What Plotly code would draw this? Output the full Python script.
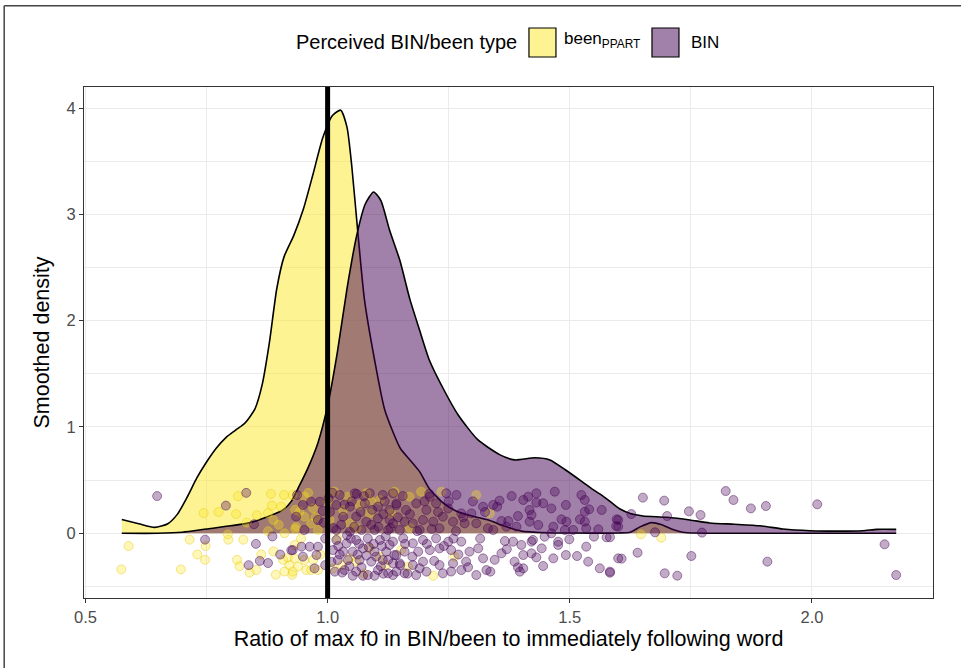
import plotly.graph_objects as go

# ---- smoothed densities of the f0 ratio, one curve per perceived type ----
been_x = [0.575, 0.61, 0.643, 0.67, 0.69, 0.71, 0.73, 0.75, 0.77, 0.79, 0.81, 0.83,
          0.85, 0.865, 0.88, 0.895, 0.91, 0.93, 0.95, 0.97, 0.99, 1.01, 1.027, 1.04,
          1.05, 1.062, 1.076, 1.097, 1.118, 1.15, 1.17, 1.19, 1.21, 1.24, 1.27, 1.30,
          1.335, 1.36, 1.38, 1.40, 1.45, 1.50, 1.60, 1.625, 1.645, 1.669, 1.69, 1.71,
          1.733, 1.76, 1.90, 2.174]
been_y = [0.13, 0.09, 0.055, 0.09, 0.18, 0.34, 0.52, 0.67, 0.80, 0.90, 0.97, 1.04,
          1.17, 1.40, 1.80, 2.30, 2.60, 2.80, 3.05, 3.38, 3.72, 3.93, 3.98, 3.82,
          3.45, 2.85, 2.20, 1.63, 1.16, 0.80, 0.69, 0.58, 0.42, 0.28, 0.20, 0.16,
          0.12, 0.075, 0.045, 0.02, 0.005, 0.002, 0.003, 0.01, 0.06, 0.10, 0.08, 0.04,
          0.01, 0.002, 0.0, 0.0]

bin_x = [0.575, 0.65, 0.70, 0.75, 0.80, 0.84, 0.873, 0.908, 0.925, 0.942, 0.96, 0.98,
         1.0, 1.02, 1.04, 1.06, 1.078, 1.095, 1.11, 1.128, 1.149, 1.17, 1.19, 1.21,
         1.24, 1.27, 1.31, 1.355, 1.386, 1.428, 1.459, 1.49, 1.521, 1.545, 1.562, 1.583,
         1.603, 1.625, 1.651, 1.70, 1.748, 1.789, 1.84, 1.893, 1.94, 1.996, 2.05, 2.105,
         2.134, 2.174]
bin_y = [0.0, 0.0, 0.01, 0.04, 0.07, 0.10, 0.15, 0.22, 0.30, 0.45, 0.62, 0.85,
         1.20, 1.70, 2.30, 2.80, 3.10, 3.21, 3.13, 2.85, 2.57, 2.20, 1.91, 1.63,
         1.35, 1.11, 0.88, 0.74, 0.69, 0.71, 0.69, 0.60, 0.50, 0.42, 0.37, 0.30,
         0.23, 0.185, 0.163, 0.15, 0.125, 0.097, 0.085, 0.07, 0.04, 0.024, 0.02, 0.024,
         0.037, 0.037]

# ---- individual tokens, vertically jittered around zero ----
been_pts_x = [0.589, 0.574, 0.697, 0.715, 0.731, 0.747, 0.748, 0.744, 0.775, 0.795,
              0.794, 0.811, 0.815, 0.826, 0.813, 0.818, 0.839, 0.833, 0.854, 0.877,
              0.883, 0.885, 0.910, 0.904, 0.888, 0.899, 0.877, 0.911, 0.888, 0.908,
              0.918, 0.921, 0.893, 0.911, 0.927, 0.932, 0.933, 0.933, 0.863, 0.853,
              0.928, 0.952, 0.970, 0.952, 0.966, 0.935, 0.980, 0.942, 0.932, 0.952,
              0.956, 0.939, 0.928, 0.970, 0.966, 0.980, 1.014, 1.042, 1.066, 1.087,
              1.004, 1.046, 1.080, 1.032, 1.108, 1.011, 1.046, 1.087, 1.059, 1.108,
              1.138, 1.169, 1.193, 1.235, 1.307, 1.335, 1.152, 1.166, 1.262, 1.218,
              1.131, 1.647, 1.689,
              0.960, 0.985, 1.000, 1.020, 1.030, 1.060, 1.090, 1.120, 0.975, 0.945,
              1.170, 1.075]
been_pts_y = [-0.12, -0.34, -0.34, -0.06, -0.20, -0.25, -0.12, 0.19, 0.20, -0.06,
              -0.01, 0.18, 0.35, -0.06, -0.25, -0.31, -0.37, 0.10, 0.17, 0.19,
              0.37, 0.26, 0.36, 0.25, 0.125, 0.08, 0.02, 0.0, -0.17, -0.25,
              -0.23, -0.30, -0.39, -0.36, -0.39, -0.11, 0.04, 0.22, -0.20, -0.345,
              0.36, 0.344, 0.234, 0.156, 0.093, 0.062, 0.031, 0.203, -0.236, -0.252,
              -0.346, -0.314, -0.361, -0.252, -0.346, -0.346, 0.391, 0.344, 0.266, 0.187,
              0.125, 0.093, 0.376, 0.219, 0.313, -0.33, -0.236, -0.142, -0.267, -0.22,
              0.391, 0.344, 0.391, 0.391, 0.36, 0.187, -0.158, -0.314, -0.22, -0.40,
              0.187, -0.01, -0.042,
              0.38, -0.20, 0.30, -0.05, -0.30, 0.05, 0.30, -0.30, 0.15, -0.05,
              0.05, -0.38]

bin_pts_x = [0.648, 0.832, 0.790, 0.848, 0.747, 0.852, 0.886, 0.925, 0.902, 0.860,
             0.837, 0.877, 0.937,
             0.966, 0.949, 0.935, 0.952, 0.980, 0.984, 0.928, 0.946, 0.963, 0.980,
             0.949, 0.977, 0.973,
             1.025, 1.056, 1.087, 1.114, 1.135, 1.018, 1.046, 1.077, 1.104, 1.128,
             1.032, 1.059, 1.080, 1.104, 1.128, 1.018, 1.046, 1.070, 1.097, 1.125,
             1.142,
             1.018, 1.039, 1.059, 1.083, 1.108, 1.128, 1.011, 1.032, 1.052, 1.073,
             1.097, 1.121, 1.142, 1.021, 1.042, 1.066, 1.090, 1.114, 1.135, 1.015,
             1.035, 1.059, 1.083, 1.104, 1.125, 1.142, 1.052, 1.073, 1.097,
             1.005, 1.028, 1.050, 1.068, 1.090, 1.115, 1.040, 1.065, 1.095, 1.120,
             1.025, 1.080, 1.110, 1.045, 1.070, 1.008, 0.995, 0.990,
             1.142, 1.162, 1.183, 1.204, 1.224, 1.249, 1.266, 1.276, 1.297, 1.321,
             1.135, 1.159, 1.176, 1.197, 1.218, 1.238, 1.259, 1.283, 1.307, 1.331,
             1.149, 1.190, 1.231, 1.245, 1.211,
             1.135, 1.156, 1.176, 1.197, 1.224, 1.249, 1.276, 1.138, 1.159, 1.187,
             1.211, 1.231, 1.255, 1.293, 1.311, 1.149, 1.176, 1.197, 1.231, 1.259,
             1.286, 1.321, 1.159, 1.183, 1.204, 1.238, 1.276, 1.307, 1.328, 1.135,
             1.355, 1.342, 1.404, 1.414, 1.431, 1.431, 1.445, 1.469, 1.462, 1.492,
             1.524, 1.531, 1.531, 1.540, 1.566, 1.417, 1.421, 1.417, 1.393, 1.435,
             1.483, 1.493, 1.521, 1.531, 1.359, 1.373, 1.369, 1.390, 1.466, 1.490,
             1.507, 1.534, 1.559, 1.462, 1.342, 1.597, 1.600,
             1.366, 1.383, 1.400, 1.421, 1.424, 1.448, 1.476, 1.476, 1.499, 1.442,
             1.359, 1.404, 1.421, 1.431, 1.466, 1.492, 1.515, 1.534, 1.550, 1.576,
             1.386, 1.393, 1.404, 1.397, 1.445, 1.336, 1.538, 1.562, 1.583, 1.600,
             1.651, 1.695, 1.627, 1.600, 1.596, 1.701, 1.746, 1.770, 1.822, 1.838,
             1.874, 1.905, 2.011, 1.676, 1.773, 1.583, 1.607, 1.640, 1.751, 1.908,
             2.150, 2.174, 1.696, 1.722, 1.583,
             1.002, 1.012, 1.022, 1.035, 1.048, 1.055, 1.062, 1.075, 1.085, 1.092,
             1.100, 1.105, 1.112, 1.118, 1.125, 1.130, 1.145, 1.150, 1.155, 1.160,
             1.170, 1.175, 1.185, 1.190, 1.200, 1.205, 1.215, 1.220, 1.228, 1.240,
             1.250, 1.255, 1.265, 1.270, 1.280, 1.290, 1.300, 1.315, 1.325, 1.345,
             1.350, 1.370, 1.380, 0.995, 0.992, 1.010, 1.030, 1.060, 1.115, 1.165,
             1.210, 1.260]
bin_pts_y = [0.35, 0.38, 0.26, 0.085, -0.06, -0.10, -0.03, -0.16, -0.20, -0.26,
             -0.30, -0.28, 0.36,
             0.297, 0.266, 0.156, 0.031, 0.125, 0.297, -0.158, -0.126, -0.126, -0.126,
             -0.22, -0.205, -0.33,
             0.36, 0.376, 0.376, 0.36, 0.376, 0.266, 0.25, 0.281, 0.25, 0.219,
             0.156, 0.156, 0.109, 0.14, 0.125, 0.031, 0.015, 0.031, 0.031, 0.031,
             0.281,
             -0.063, -0.095, -0.063, -0.048, -0.063, -0.11, -0.158, -0.173, -0.173, -0.142,
             -0.173, -0.173, -0.205, -0.252, -0.252, -0.252, -0.267, -0.252, -0.283, -0.361,
             -0.346, -0.361, -0.393, -0.346, -0.377, -0.361, -0.40, -0.40, -0.40,
             0.20, 0.08, 0.30, 0.20, 0.08, 0.18, -0.02, -0.10, -0.10, -0.03,
             -0.20, -0.21, -0.31, -0.31, -0.32, -0.27, -0.05, 0.21,
             0.266, 0.219, 0.281, 0.219, 0.281, 0.234, 0.36, 0.187, 0.187, 0.25,
             0.093, 0.109, 0.093, 0.125, 0.109, 0.156, 0.109, 0.093, 0.093, 0.046,
             0.031, 0.031, 0.046, 0.376, 0.344,
             -0.079, -0.048, -0.095, -0.063, -0.048, -0.079, -0.079, -0.205, -0.173, -0.173,
             -0.158, -0.142, -0.158, -0.173, -0.142, -0.283, -0.299, -0.267, -0.299, -0.283,
             -0.267, -0.236, -0.377, -0.393, -0.361, -0.377, -0.346, -0.393, -0.346, -0.393,
             0.307, 0.266, 0.313, 0.344, 0.376, 0.288, 0.282, 0.391, 0.234, 0.266,
             0.36, 0.313, 0.203, 0.225, 0.219, 0.219, 0.172, 0.109, 0.162, 0.078,
             0.131, 0.109, 0.131, 0.109, 0.115, 0.115, 0.062, 0.062, 0.062, 0.031,
             0.031, 0.046, 0.037, 0.0, 0.031, 0.131, 0.062,
             -0.073, -0.079, -0.11, -0.079, -0.063, -0.032, -0.079, -0.11, -0.057, -0.142,
             -0.189, -0.205, -0.189, -0.227, -0.236, -0.205, -0.214, -0.126, -0.032, -0.038,
             -0.267, -0.321, -0.33, -0.361, -0.308, -0.361, -0.267, -0.33, -0.361, -0.236,
             0.335, 0.307, 0.181, 0.125, 0.068, 0.162, 0.206, 0.172, 0.397, 0.313,
             0.234, 0.256, 0.272, 0.009, 0.006, -0.038, -0.239, -0.183, -0.214, -0.267,
             -0.104, -0.393, -0.377, -0.399, -0.371,
             0.33, 0.05, -0.12, 0.27, -0.05, 0.06, -0.20, 0.35, -0.13, 0.22,
             -0.22, 0.06, -0.12, 0.30, -0.25, 0.05, 0.15, -0.30, 0.35, -0.10,
             0.18, -0.22, 0.02, -0.33, 0.30, -0.10, 0.04, -0.26, 0.20, -0.12,
             0.30, -0.36, 0.02, -0.20, 0.15, -0.32, 0.30, -0.05, 0.20, -0.25,
             0.25, -0.15, 0.35, -0.30, 0.10, 0.38, -0.37, 0.37, -0.38, -0.38,
             0.37, -0.05]

x_ticks = [0.5, 1.0, 1.5, 2.0]
y_ticks = [0, 1, 2, 3, 4]
ref_ratio = 1.0  # equal f0 in BIN/been and the following word

FONT = "Liberation Sans, Arial, Helvetica, sans-serif"
YELLOW_FILL = "rgba(253,231,37,0.5)"
PURPLE_FILL = "rgba(68,1,84,0.5)"
YELLOW_PT = "rgba(253,231,37,0.33)"
PURPLE_PT = "rgba(68,1,84,0.33)"
YELLOW_RING = "rgba(230,200,20,0.45)"
PURPLE_RING = "rgba(68,1,84,0.45)"

fig = go.Figure()

# density areas (been drawn first, BIN laid over it)
fig.add_trace(go.Scatter(x=been_x, y=been_y, mode="lines", fill="tozeroy",
                         fillcolor=YELLOW_FILL,
                         line=dict(color="black", width=1.6, shape="spline", smoothing=0.6),
                         showlegend=False, hoverinfo="skip"))
fig.add_trace(go.Scatter(x=bin_x, y=bin_y, mode="lines", fill="tozeroy",
                         fillcolor=PURPLE_FILL,
                         line=dict(color="black", width=1.6, shape="spline", smoothing=0.6),
                         showlegend=False, hoverinfo="skip"))

# jittered tokens
fig.add_trace(go.Scatter(x=been_pts_x, y=been_pts_y, mode="markers",
                         marker=dict(size=9, color=YELLOW_PT, line=dict(color=YELLOW_RING, width=1)),
                         showlegend=False, hoverinfo="skip"))
fig.add_trace(go.Scatter(x=bin_pts_x, y=bin_pts_y, mode="markers",
                         marker=dict(size=9, color=PURPLE_PT, line=dict(color=PURPLE_RING, width=1)),
                         showlegend=False, hoverinfo="skip"))

fig.add_vline(x=ref_ratio, line_width=5, line_color="black", layer="above")

# legend keys, ggplot style
fig.add_shape(type="rect", xref="paper", yref="paper", x0=0.5241, x1=0.5559, y0=1.0587, y1=1.1155,
              fillcolor=YELLOW_FILL, line=dict(color="black", width=1.2), layer="above")
fig.add_shape(type="rect", xref="paper", yref="paper", x0=0.669, x1=0.7008, y0=1.0587, y1=1.1155,
              fillcolor=PURPLE_FILL, line=dict(color="black", width=1.2), layer="above")
# outer frame
fig.add_shape(type="line", xref="paper", yref="paper", x0=-0.094, x1=1.04, y0=1.159, y1=1.159,
              line=dict(color="#444444", width=1.5))
fig.add_shape(type="line", xref="paper", yref="paper", x0=-0.094, x1=-0.094, y0=1.159, y1=-0.15,
              line=dict(color="#444444", width=1.5))

annotations = [
    dict(xref="paper", yref="paper", x=0.5124, y=1.088, xanchor="right", yanchor="middle",
         text="Perceived BIN/been type", showarrow=False,
         font=dict(size=20, color="black", family=FONT)),
    dict(xref="paper", yref="paper", x=0.5630, y=1.092, xanchor="left", yanchor="middle",
         text="been<sub>PPART</sub>", showarrow=False,
         font=dict(size=17, color="black", family=FONT)),
    dict(xref="paper", yref="paper", x=0.7126, y=1.088, xanchor="left", yanchor="middle",
         text="BIN", showarrow=False, font=dict(size=17, color="black", family=FONT)),
]

axis_common = dict(
    showline=True, mirror=True, linecolor="#333333", linewidth=1,
    ticks="outside", ticklen=4, tickcolor="#333333", tickwidth=1,
    showgrid=True, gridcolor="#EBEBEB", gridwidth=1.1,
    zeroline=False, tickfont=dict(size=16.5, color="#4D4D4D", family=FONT),
    title_font=dict(size=21.5, color="black", family=FONT),
)

fig.update_layout(
    width=961, height=668,
    margin=dict(l=84, r=28, t=87, b=70),
    paper_bgcolor="white", plot_bgcolor="white",
    font=dict(family=FONT),
    annotations=annotations,
    xaxis=dict(axis_common, range=[0.497, 2.25], tickvals=x_ticks,
               ticktext=[f"{v:.1f}" for v in x_ticks],
               minor=dict(dtick=0.25, tick0=0.25, showgrid=True, gridcolor="#EBEBEB",
                          gridwidth=0.6, ticks=""),
               title=dict(text="Ratio of max f0 in BIN/been to immediately following word",
                          standoff=6)),
    yaxis=dict(axis_common, range=[-0.609, 4.198], tickvals=y_ticks,
               minor=dict(dtick=0.5, tick0=0.5, showgrid=True, gridcolor="#EBEBEB",
                          gridwidth=0.6, ticks=""),
               title=dict(text="Smoothed density", standoff=10)),
)

fig.write_html("out.html")
